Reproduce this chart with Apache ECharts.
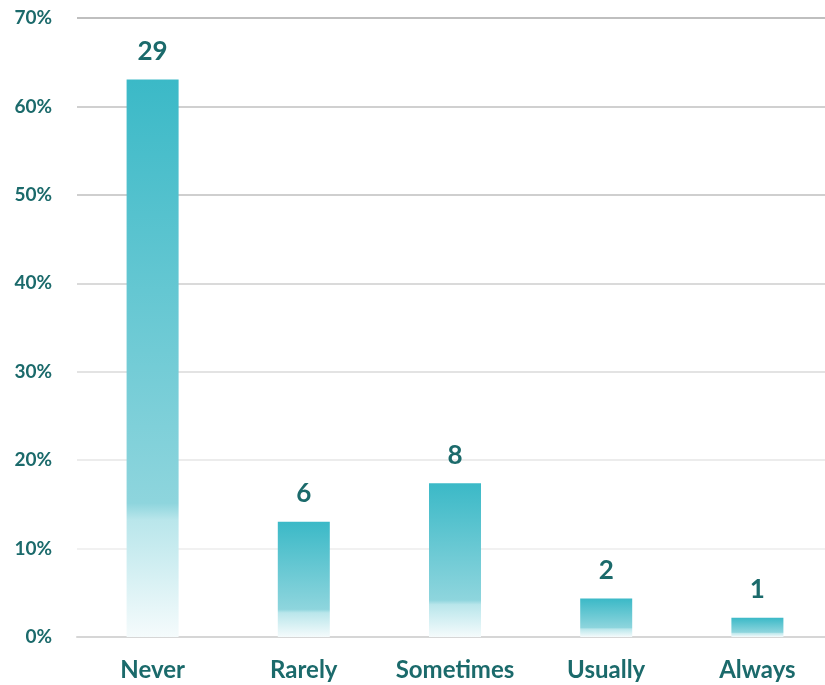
<!DOCTYPE html>
<html>
<head>
<meta charset="utf-8">
<script src="https://cdn.jsdelivr.net/npm/echarts@6/dist/echarts.min.js"></script>
<style>
  html, body { margin: 0; padding: 0; background: #fff; }
  #chart { width: 825px; height: 685px; }
</style>
</head>
<body>
<div id="chart"></div>
<script>
const categories = ['Never', 'Rarely', 'Sometimes', 'Usually', 'Always'];
const counts = [29, 6, 8, 2, 1];
const yTicks = [0, 10, 20, 30, 40, 50, 60, 70];

const total = counts.reduce((a, b) => a + b, 0);
const percents = counts.map(c => c / total * 100);

const textColor = '#1b6a6b';
// gridlines fade from darker at the top to light at the bottom
const gridColors = ['#d9d9d9', '#f1f1f1', '#ececec', '#e3e3e3', '#dadada', '#cfcfcf', '#d0d0d0', '#bfbfbf'];
const chart = echarts.init(document.getElementById('chart'));

chart.setOption({
    animation: false,
    grid: { left: 77, width: 756, top: 18, bottom: 48, outerBoundsMode: 'none' },
    xAxis: {
        type: 'category',
        data: categories,
        axisTick: { show: false },
        axisLine: { lineStyle: { color: '#d6d6d6', width: 2 } },
        axisLabel: {
            interval: 0, hideOverlap: false,
            color: textColor, fontFamily: 'Lato', fontWeight: 'bold',
            fontSize: 24, margin: 21
        }
    },
    yAxis: {
        type: 'value',
        min: yTicks[0], max: yTicks[yTicks.length - 1], interval: 10,
        axisLabel: {
            color: textColor, fontFamily: 'Lato', fontWeight: 'bold',
            fontSize: 19, margin: 25, formatter: '{value}%'
        },
        splitLine: { lineStyle: { color: gridColors, width: 2 } }
    },
    series: [{
        type: 'bar',
        data: percents,
        barWidth: 52,
        itemStyle: {
            color: new echarts.graphic.LinearGradient(0, 0, 0, 1, [
                { offset: 0, color: '#3bb9c7' },
                { offset: 0.76, color: '#8ed5dd' },
                { offset: 0.79, color: '#b9e6eb' },
                { offset: 1, color: '#f5fbfc' }
            ])
        },
        label: {
            show: true, position: 'top', distance: 15,
            color: textColor, fontFamily: 'Lato', fontWeight: 'bold', fontSize: 26,
            formatter: p => counts[p.dataIndex]
        }
    }]
});
</script>
</body>
</html>
